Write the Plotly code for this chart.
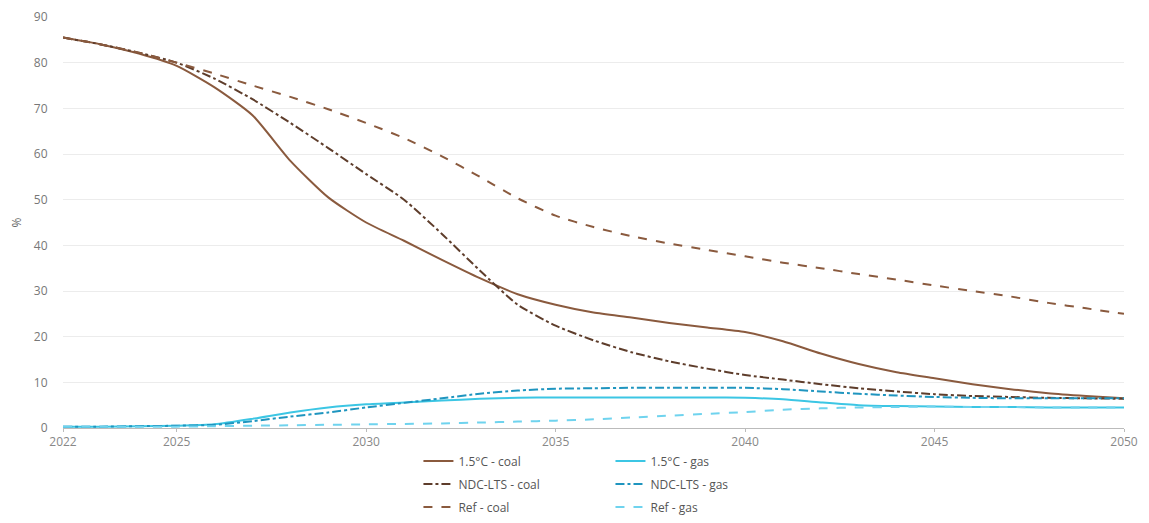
import plotly.graph_objects as go

years = list(range(2022, 2051))

coal_15 = [85.5, 84.0, 82.0, 79.3, 74.6, 68.5, 58.5, 50.5, 45.0, 41.0, 36.8, 32.8, 29.3, 27.0, 25.3, 24.2, 23.0, 22.0, 21.0, 19.0, 16.3, 14.0, 12.2, 10.9, 9.6, 8.5, 7.6, 7.0, 6.5]
coal_ndc = [85.5, 84.0, 82.2, 80.0, 76.5, 72.0, 66.8, 61.3, 55.6, 50.0, 42.5, 34.5, 27.0, 22.4, 19.2, 16.6, 14.6, 13.0, 11.6, 10.6, 9.6, 8.7, 8.0, 7.4, 7.0, 6.8, 6.6, 6.5, 6.4]
coal_ref = [85.5, 84.0, 82.2, 80.0, 77.6, 75.0, 72.5, 69.8, 66.8, 63.5, 59.5, 55.0, 50.3, 46.5, 44.0, 42.0, 40.4, 39.0, 37.6, 36.2, 35.0, 33.7, 32.5, 31.2, 30.0, 28.8, 27.4, 26.2, 25.0]
gas_15 = [0.3, 0.3, 0.4, 0.5, 0.8, 2.0, 3.4, 4.5, 5.2, 5.6, 6.0, 6.4, 6.6, 6.7, 6.7, 6.7, 6.7, 6.7, 6.6, 6.3, 5.6, 5.0, 4.8, 4.7, 4.6, 4.6, 4.5, 4.5, 4.5]
gas_ndc = [0.3, 0.3, 0.4, 0.5, 0.7, 1.5, 2.5, 3.4, 4.5, 5.5, 6.5, 7.5, 8.2, 8.6, 8.7, 8.8, 8.8, 8.8, 8.8, 8.5, 8.0, 7.5, 7.1, 6.8, 6.6, 6.5, 6.5, 6.5, 6.5]
gas_ref = [0.3, 0.3, 0.3, 0.3, 0.4, 0.5, 0.6, 0.7, 0.8, 0.9, 1.0, 1.2, 1.4, 1.6, 1.9, 2.3, 2.7, 3.1, 3.5, 4.0, 4.3, 4.5, 4.6, 4.7, 4.6, 4.6, 4.5, 4.5, 4.5]

x_ticks = [2022, 2025, 2030, 2035, 2040, 2045, 2050]
y_ticks = [0, 10, 20, 30, 40, 50, 60, 70, 80, 90]

series = [
    ("1.5°C - coal", coal_15, "#8a5a3e", "solid", "legend"),
    ("NDC-LTS - coal", coal_ndc, "#5e3d2b", "dashdot", "legend"),
    ("Ref - coal", coal_ref, "#8a5a3e", "dash", "legend"),
    ("1.5°C - gas", gas_15, "#3cc6e4", "solid", "legend2"),
    ("NDC-LTS - gas", gas_ndc, "#1f95bf", "dashdot", "legend2"),
    ("Ref - gas", gas_ref, "#6fd3ee", "dash", "legend2"),
]

fig = go.Figure()
for i, (name, vals, color, dash, leg) in enumerate(series):
    fig.add_trace(go.Scatter(
        x=years, y=vals, name=name, mode="lines", legend=leg, legendgroup=f"g{i}",
        line=dict(color=color, width=2, dash=dash, shape="spline", smoothing=0.6),
    ))

legend_common = dict(
    orientation="v", yanchor="top", xanchor="left",
    font=dict(family="Open Sans, sans-serif", size=12, color="#555555"),
    tracegroupgap=4, itemwidth=30, bgcolor="rgba(0,0,0,0)",
)

fig.update_layout(
    width=1149, height=523,
    margin=dict(l=55, r=33, t=9, b=103, autoexpand=False),
    paper_bgcolor="white", plot_bgcolor="white",
    font=dict(family="Open Sans, sans-serif", size=12, color="#666666"),
    showlegend=True,
    legend=dict(x=0.335, y=-0.045, **legend_common),
    legend2=dict(x=0.516, y=-0.045, **legend_common),
    xaxis=dict(
        range=[2022, 2050], tickvals=x_ticks, ticktext=[str(v) for v in x_ticks],
        showgrid=False, showline=True, linecolor="#bbbbbb", linewidth=1,
        ticks="outside", ticklen=3, tickcolor="#bbbbbb", zeroline=False,
        tickfont=dict(size=12, color="#888888"),
    ),
    yaxis=dict(
        range=[0, 90], tickvals=y_ticks, showgrid=True, gridcolor="#ececec",
        zeroline=False, showline=False, ticks="outside", ticklen=12, tickcolor="rgba(0,0,0,0)",
        ticklabeloverflow="allow",
        title=dict(text="%", font=dict(size=12, color="#666666"), standoff=14),
        tickfont=dict(size=12, color="#777777"),
    ),
)

fig.write_html("out.html")
